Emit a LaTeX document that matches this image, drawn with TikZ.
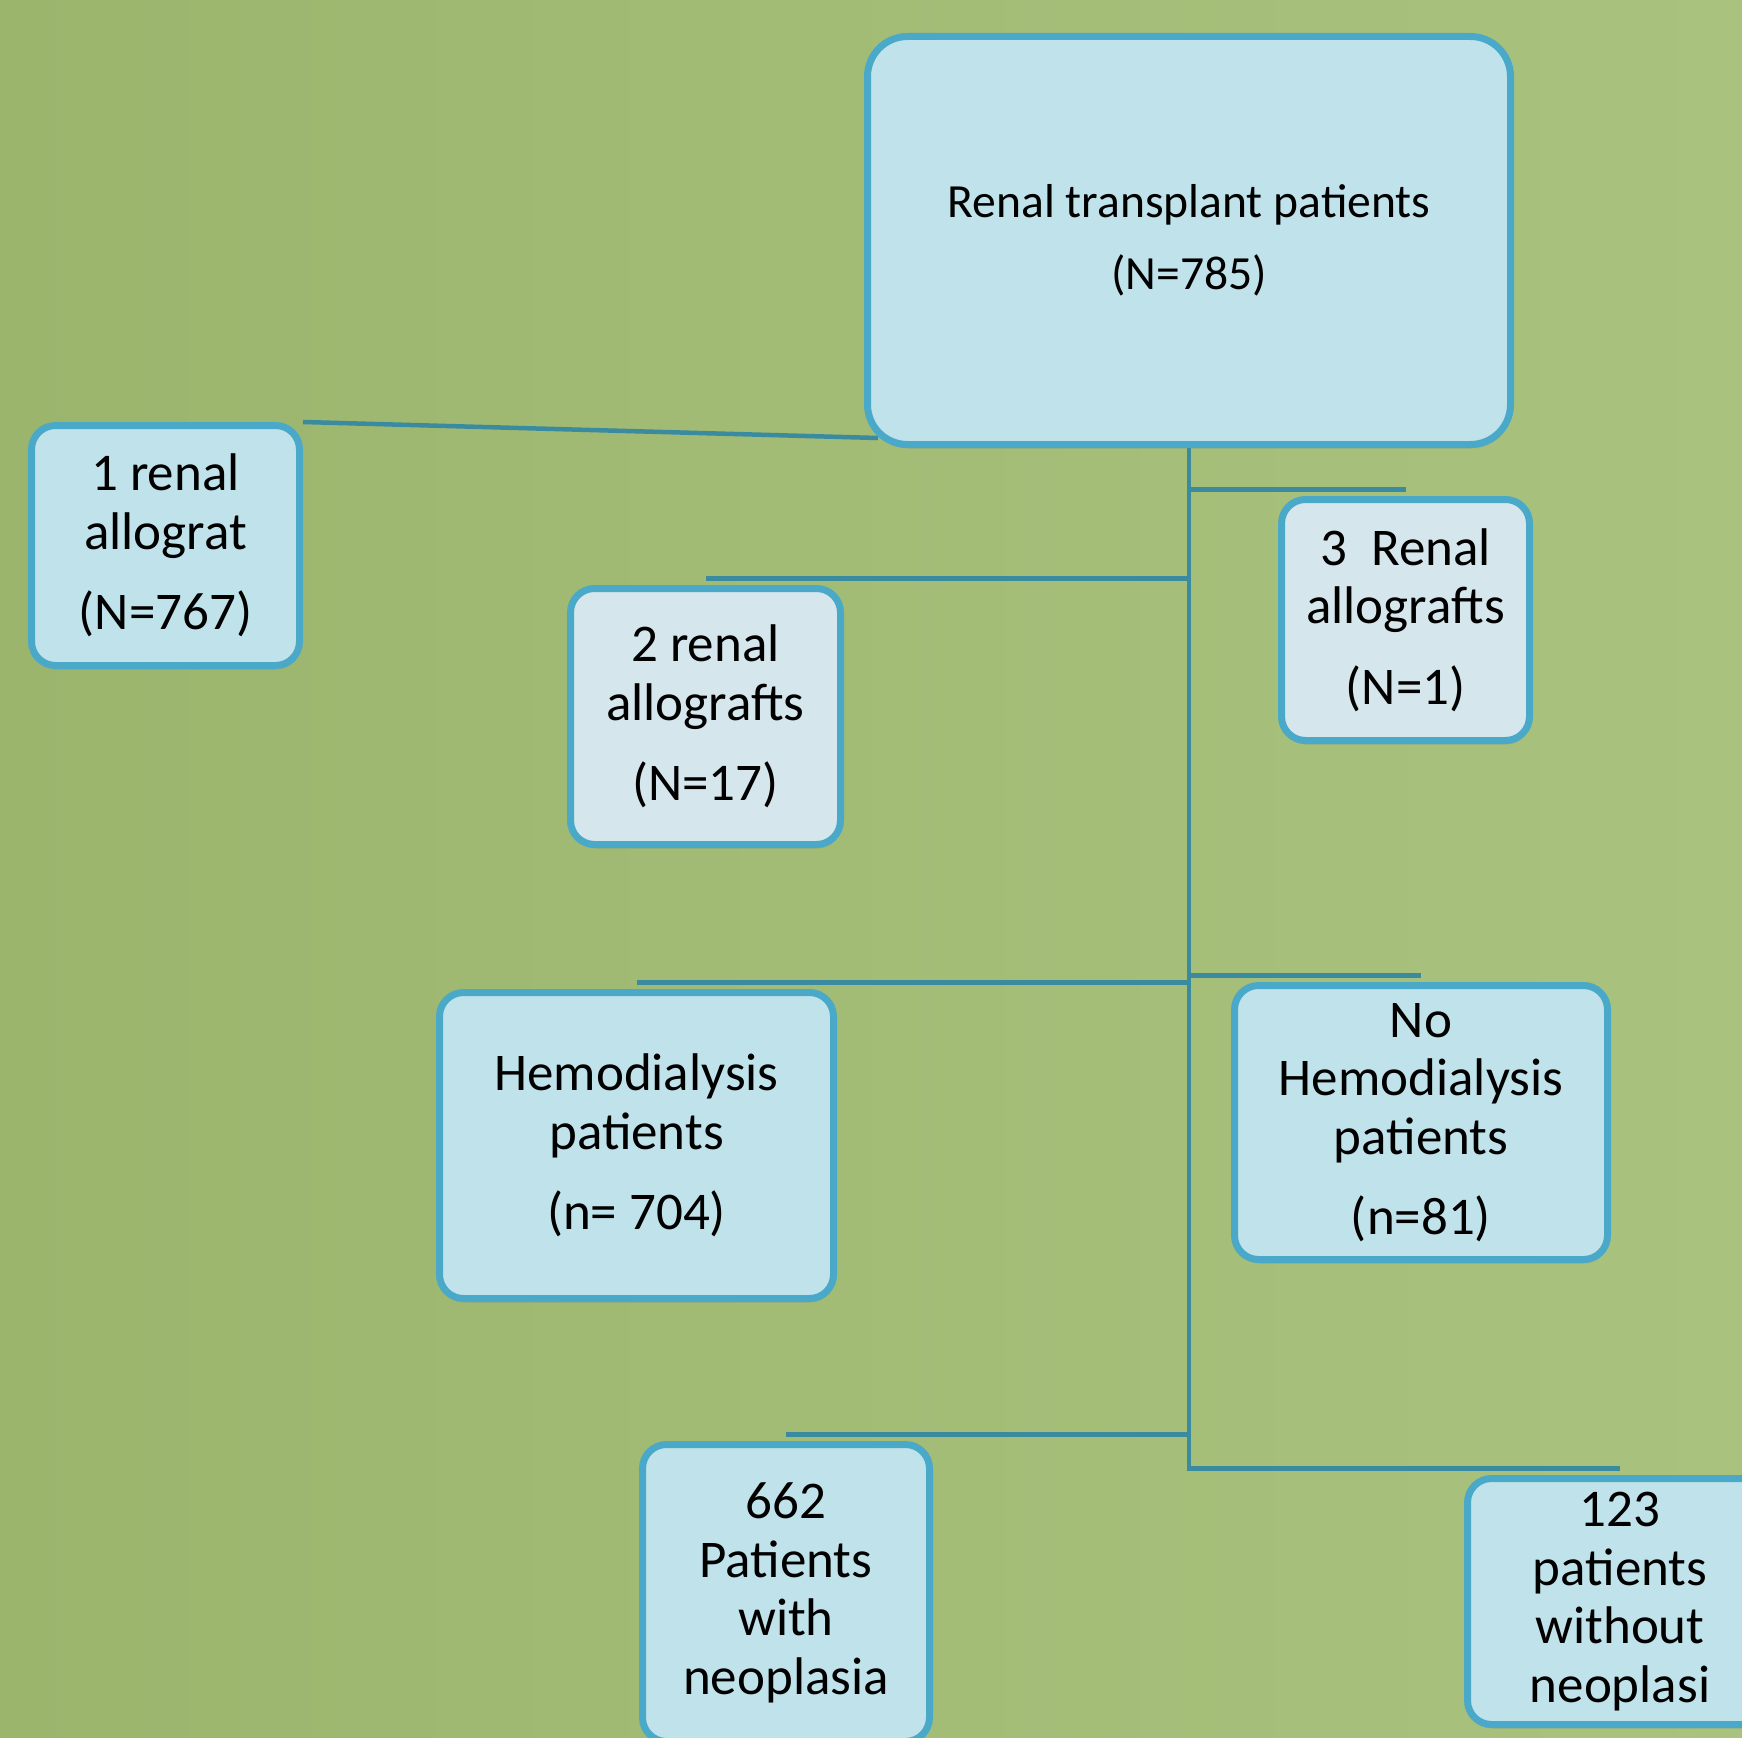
\documentclass[tikz,border=0pt]{standalone}
\usepackage{fontspec}
\setmainfont{Carlito}
\usetikzlibrary{calc,shadows}
\definecolor{bgA}{HTML}{9CB56D}
\definecolor{bgB}{HTML}{A9C37F}
\definecolor{boxfill}{HTML}{C0E2EA}
\definecolor{boxfillB}{HTML}{D5E6EC}
\definecolor{boxline}{HTML}{4AA9C8}
\definecolor{connline}{HTML}{3A8AA0}
\pgfdeclarelayer{bg}
\pgfdeclarelayer{lines}
\pgfsetlayers{bg,lines,main}
\begin{document}
\begin{tikzpicture}[x=1pt,y=-1pt,
  box/.style={draw=boxline, line width=7pt, fill=boxfill, rounded corners=24pt,
    align=center, inner sep=0pt, text=black,
    font=\fontsize{53}{58.5}\selectfont,
    drop shadow={shadow xshift=1pt, shadow yshift=-4pt, opacity=0.25}},
  conn/.style={draw=connline, line width=4.5pt}]

\useasboundingbox (0,0) rectangle (1742,1737);
\begin{pgfonlayer}{bg}
  \shade[left color=bgA, right color=bgB] (0,0) rectangle (1742,1737);
\end{pgfonlayer}
\clip (0,0) rectangle (1742,1737);

\node[box, minimum width=643pt, minimum height=408pt, rounded corners=40pt,
  font=\fontsize{47.6}{72}\selectfont] (top) at (1189,240.5)
  {Renal transplant patients\\(N=785)};

\node[box, minimum width=268pt, minimum height=240pt] (b1) at (165.5,545.5)
  {1 renal\\allograt\\[22pt](N=767)};

\node[box, fill=boxfillB, minimum width=270pt, minimum height=256pt] (b2) at (705.5,716.5)
  {2 renal\\allografts\\[22pt](N=17)};

\node[box, fill=boxfillB, minimum width=248pt, minimum height=241pt] (b3) at (1405.5,620)
  {3\ \ Renal\\allografts\\[22pt](N=1)};

\node[box, minimum width=394pt, minimum height=306pt] (hemo) at (636.5,1145.5)
  {Hemodialysis\\patients\\[22pt](n= 704)};

\node[box, minimum width=373pt, minimum height=274pt] (nohemo) at (1421,1122.5)
  {No\\Hemodialysis\\patients\\[22pt](n=81)};

\node[box, minimum width=287pt, minimum height=297pt] (p662) at (786,1593)
  {662\\Patients\\with\\neoplasia};

\node[box, minimum width=305pt, minimum height=246pt] (p123) at (1620,1601.5)
  {123\\patients\\without\\neoplasi};

\begin{pgfonlayer}{lines}
  \draw[conn] (b1.north east) -- ($(top.south west)+(14,-10)$);
  \draw[conn, line join=miter] (top.south) |- ($(p123.north)+(0,-6.5)$);
  \draw[conn] ($(top.south |- b3.north)+(0,-6.5)$) -- ($(b3.north)+(0,-6.5)$);
  \draw[conn] ($(top.south |- b2.north)+(0,-6.5)$) -- ($(b2.north)+(0,-6.5)$);
  \draw[conn] ($(top.south |- hemo.north)+(0,-6.5)$) -- ($(hemo.north)+(0,-6.5)$);
  \draw[conn] ($(top.south |- nohemo.north)+(0,-6.5)$) -- ($(nohemo.north)+(0,-6.5)$);
  \draw[conn] ($(top.south |- p662.north)+(0,-6.5)$) -- ($(p662.north)+(0,-6.5)$);
\end{pgfonlayer}
\end{tikzpicture}
\end{document}
